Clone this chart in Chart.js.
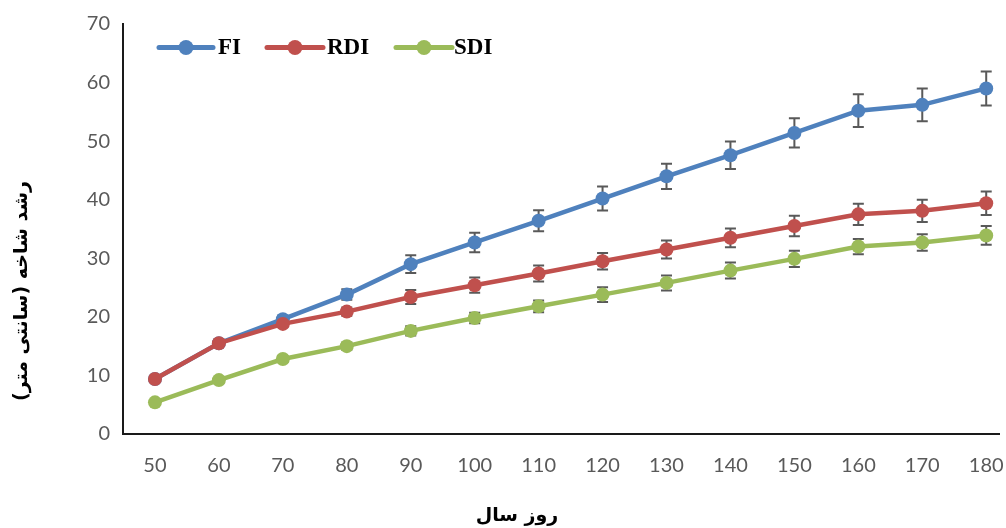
<!DOCTYPE html>
<html>
<head>
<meta charset="utf-8">
<script src="https://cdn.jsdelivr.net/npm/chart.js@4/dist/chart.umd.min.js"></script>
<style>
  html, body { margin: 0; padding: 0; background: #ffffff; }
  #wrap { width: 1006px; height: 528px; position: relative; }
</style>
</head>
<body>
<div id="wrap"><canvas id="c" width="1006" height="528"></canvas></div>
<script>
// ---- data ----
const days = [50, 60, 70, 80, 90, 100, 110, 120, 130, 140, 150, 160, 170, 180];
const fiValues  = [9.4, 15.5, 19.6, 23.8, 29.0, 32.7, 36.4, 40.2, 44.0, 47.6, 51.4, 55.2, 56.2, 59.0];
const rdiValues = [9.4, 15.5, 18.8, 20.9, 23.4, 25.4, 27.4, 29.5, 31.5, 33.5, 35.5, 37.5, 38.1, 39.4];
const sdiValues = [5.4, 9.2, 12.8, 15.0, 17.6, 19.8, 21.8, 23.8, 25.8, 27.9, 29.9, 32.0, 32.7, 33.9];
const fiErrors  = [0.3, 0.4, 0.6, 0.9, 1.5, 1.65, 1.8, 2.05, 2.15, 2.35, 2.5, 2.8, 2.8, 2.9];
const rdiErrors = [0.3, 0.4, 0.5, 0.7, 1.2, 1.3, 1.35, 1.4, 1.55, 1.6, 1.75, 1.8, 1.9, 2.0];
const sdiErrors = [0.3, 0.4, 0.5, 0.6, 0.8, 0.9, 1.0, 1.25, 1.28, 1.37, 1.4, 1.3, 1.4, 1.6];
const seriesNames = ['FI', 'RDI', 'SDI'];
const yTicks = [0, 10, 20, 30, 40, 50, 60, 70];
const yTitle = 'رشد شاخه (سانتی متر)';
const xTitle = 'روز سال';

const colors = ['#4F81BD', '#C0504D', '#9BBB59'];
const allValues = [fiValues, rdiValues, sdiValues];
const allErrors = [fiErrors, rdiErrors, sdiErrors];

const datasets = seriesNames.map((name, i) => ({
  label: name,
  data: days.map((d, k) => ({ x: d, y: allValues[i][k] })),
  errors: allErrors[i],
  borderColor: colors[i],
  backgroundColor: colors[i],
  pointBackgroundColor: colors[i],
  pointBorderColor: colors[i],
  borderWidth: 4.5,
  pointRadius: 7,
  pointBorderWidth: 0,
  tension: 0,
  order: 3 - i
}));

const errorBarPlugin = {
  id: 'errorBars',
  beforeDatasetsDraw(chart) {
    const ctx = chart.ctx;
    const ys = chart.scales.y;
    ctx.save();
    ctx.strokeStyle = '#595959';
    ctx.lineWidth = 2;
    chart.data.datasets.forEach((ds, di) => {
      const meta = chart.getDatasetMeta(di);
      meta.data.forEach((pt, k) => {
        const v = ds.data[k].y;
        const e = ds.errors[k];
        const yTop = ys.getPixelForValue(v + e);
        const yBot = ys.getPixelForValue(v - e);
        const x = pt.x;
        ctx.beginPath();
        ctx.moveTo(x, yTop); ctx.lineTo(x, yBot);
        ctx.moveTo(x - 5.5, yTop); ctx.lineTo(x + 5.5, yTop);
        ctx.moveTo(x - 5.5, yBot); ctx.lineTo(x + 5.5, yBot);
        ctx.stroke();
      });
    });
    ctx.restore();
  }
};

const decorPlugin = {
  id: 'decor',
  afterDraw(chart) {
    const ctx = chart.ctx;
    ctx.save();
    // legend
    const legendY = 47.5;
    const legendItems = [
      { x0: 159, x1: 213, tx: 218 },
      { x0: 267, x1: 323, tx: 327 },
      { x0: 396, x1: 452, tx: 454 }
    ];
    ctx.font = 'bold 23px "Liberation Serif", "Times New Roman", serif';
    ctx.textBaseline = 'middle';
    ctx.textAlign = 'left';
    legendItems.forEach((it, i) => {
      ctx.strokeStyle = colors[i];
      ctx.lineWidth = 5;
      ctx.lineCap = 'round';
      ctx.beginPath();
      ctx.moveTo(it.x0, legendY);
      ctx.lineTo(it.x1, legendY);
      ctx.stroke();
      ctx.fillStyle = colors[i];
      ctx.beginPath();
      ctx.arc((it.x0 + it.x1) / 2, legendY, 7.5, 0, Math.PI * 2);
      ctx.fill();
      ctx.fillStyle = '#000000';
      ctx.fillText(seriesNames[i], it.tx, legendY + 1);
    });
    // axis titles
    ctx.fillStyle = '#000000';
    ctx.font = 'bold 19px "DejaVu Sans", sans-serif';
    ctx.textAlign = 'center';
    ctx.textBaseline = 'middle';
    ctx.fillText(xTitle, 517, 516);
    ctx.translate(22, 291);
    ctx.rotate(-Math.PI / 2);
    ctx.fillText(yTitle, 0, 0);
    ctx.restore();
  }
};

new Chart(document.getElementById('c'), {
  type: 'line',
  data: { datasets },
  options: {
    responsive: false,
    animation: false,
    devicePixelRatio: 1,
    layout: { padding: { left: 0, top: 24, right: 2, bottom: 0 } },
    plugins: {
      legend: { display: false },
      tooltip: { enabled: false },
      title: { display: false }
    },
    scales: {
      x: {
        type: 'linear',
        min: 45,
        max: 182,
        afterBuildTicks(scale) { scale.ticks = days.map(v => ({ value: v })); },
        afterFit(scale) { scale.height = 94; scale.paddingLeft = 0; scale.paddingRight = 0; },
        grid: { display: false, drawTicks: false },
        border: { display: true, color: '#1a1a1a', width: 2 },
        ticks: {
          padding: 20,
          color: '#595959',
          font: { family: 'Lato', size: 20 },
          autoSkip: false,
          maxRotation: 0
        }
      },
      y: {
        min: 0,
        max: 70,
        afterBuildTicks(scale) { scale.ticks = yTicks.map(v => ({ value: v })); },
        afterFit(scale) { scale.width = 123; scale.paddingTop = 0; scale.paddingBottom = 0; },
        grid: { display: false, drawTicks: false },
        border: { display: true, color: '#1a1a1a', width: 2 },
        ticks: {
          padding: 13,
          color: '#595959',
          font: { family: 'Lato', size: 20 }
        }
      }
    }
  },
  plugins: [errorBarPlugin, decorPlugin]
});
</script>
</body>
</html>
